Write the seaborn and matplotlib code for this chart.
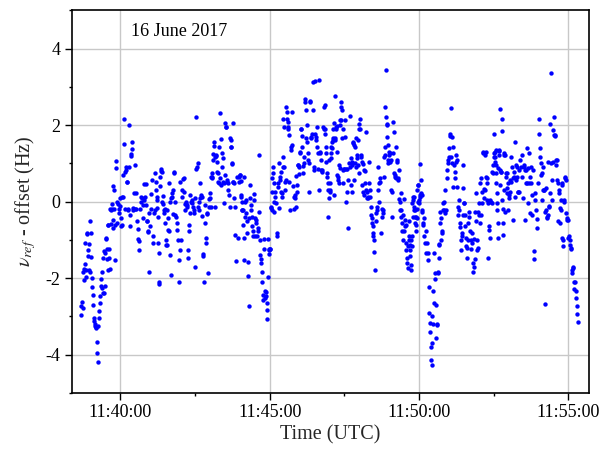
import numpy as np
import pandas as pd
import matplotlib
matplotlib.use("Agg")
import matplotlib.pyplot as plt
import seaborn as sns
from matplotlib.ticker import FixedLocator

# ---- data (seconds after 11:40:00, Hz) ----
seg_start_s = [-80, -70, -60, -50, -40, -30, -20, -10, 0, 10, 20, 30, 40, 50, 60, 70,
               80, 90, 100, 110, 120, 130, 140, 150, 160, 170, 180, 190, 200, 210, 220, 230,
               240, 250, 260, 270, 280, 290, 300, 310, 320, 330, 340, 350, 360, 370, 380, 390,
               400, 410, 420, 430, 440, 450, 460, 470, 480, 490, 500, 510, 520, 530, 540, 550,
               560, 570, 580, 590, 600, 610, 620, 630, 640, 650, 660, 670, 680, 690, 700, 710,
               720, 730, 740, 750, 760, 770, 780, 790, 800, 810, 820, 830, 840, 850, 860, 870,
               880, 890, 900, 910]
seg_values_hz = [
    [-2.97, -2.72, -2.63, -2.78, -1.84, -2.05, -1.75, -1.62, -1.09],
    [-1.97, -1.78, -0.83, -0.85, -1.26, -1.42, -1.12, -1.8, -1.83, -0.5],
    [-0.81, -1.46, -2.0, -2.22, -2.43, -2.7, -3.05, -3.12, -3.2, -3.26],
    [-3.3, -3.28, -3.67, -3.96, -4.2, -3.25, -3.04, -2.87, -2.65, -2.48],
    [-2.2, -2.02, -1.83, -2.25, -1.48, -2.4, -1.3, -2.38, -2.2, -1.35],
    [-0.96, -0.98, -1.23, -1.5, -1.78, -0.6, -0.62, -1.25, -1.48, -0.2, -1.75],
    [-0.58, -0.22, -0.05, -0.2, -0.7, -0.48, 0.4, 0.3, -0.2, -1.52, -0.6],
    [1.05, 0.87, -0.57, 0.0, -0.05, -0.3, -0.2, 0.1, -0.12],
    [-0.43, -0.63, -0.6, 0.13, 0.7, 0.12, 2.17, 1.5, -0.2, 0.78],
    [0.9, 0.82, 0.5, 0.5, -0.2, -0.22, 2.0, 0.9, -0.35, -0.63],
    [1.2, 1.24, 1.37, 1.57, -0.18, -0.21, 0.22, 0.95, -0.2],
    [0.22, -0.2, -0.5, -0.72, -0.98, -1.02, -1.26, -0.2],
    [0.0, 0.13, 0.1, -0.43, -0.1, 0.05, 0.45, 0.13],
    [-0.1, 0.45, -0.5, -0.52, -0.8, -0.76, -1.83, -0.3, -0.65],
    [-0.2, 0.2, 0.56, -0.9, -1.08, -0.3, -0.22],
    [0.74, 0.5, 0.3, 0.13, 0.05, -0.17, -0.39, -1.09, -1.35, -2.09, -2.15, 0.65, 0.4],
    [0.84, 0.8, 0.78, 0.0, 0.15, -0.05, -0.22, -0.3, -0.2],
    [-0.57, -1.0, -1.13, -1.13, -0.22, -0.43, -0.74, -0.78, 0.48, 0.0],
    [-1.4, -1.91, 0.09, 0.13, 0.22, -0.32, 0.3, 0.75, 0.77, -0.35],
    [0.0, -0.39, -0.57, -0.74, -1.0, -1.52, -2.09, 0.5],
    [-1.26, -1.0, 0.13, 0.3, 0.6, 0.61, 0.26, -0.05],
    [-0.22, 0.0, -0.05, -0.09, -0.13, -1.26, -1.48, -0.6, -0.78, -0.3],
    [0.17, 0.0, 0.04, -0.04, -0.13, -0.22, -0.3, 0.09],
    [-1.72, 2.2, 0.84, 0.91, 1.0, -0.13, 0.0, -0.22, 0.09],
    [0.48, 0.17, 0.13, -0.37, -1.37, -1.43, -2.11, -0.09],
    [-0.57, -0.96, -1.07, -0.29, -0.32, -1.87, -0.13, 0.06, 0.22],
    [0.09, -0.13, 0.65, 0.61, 0.65, 0.74, 1.09, 1.24, 1.57, 1.45, -0.13],
    [1.17, 1.19, 1.22, 1.04, 0.78, 0.74, 0.52, 0.48, 1.42, 2.32],
    [0.61, 0.43, 1.63, 0.91, 1.26, 1.13, 0.52, 0.48, -0.04, 0.7],
    [2.06, 1.96, 1.94, 0.52, 0.57, 0.48, 0.3, 0.17, -0.13],
    [1.65, 1.61, 1.43, 1.42, 1.0, 0.98, 2.06, 0.52, 0.5, 0.48, 0.09, -0.13],
    [-0.87, -1.54, 0.65, -0.96, 0.65, 0.5],
    [0.7, 0.7, 0.55, 0.17, 0.13, 0.0, -0.22, -0.22, -0.22, -0.6, -0.96, -1.52, 0.65, -0.39],
    [0.0, 0.04, -0.3, -0.52, -0.81, -1.57, -1.94, -2.74, -0.43, 0.1],
    [0.43, -0.09, -0.22, -0.39, -0.65, -0.91, -0.78, 0.2, 0.04, -0.91],
    [-0.43, -0.48, -0.57, -0.91, -0.76, -0.7, 1.21, -0.26],
    [-1.0, -1.39, -1.51, -1.61, -2.11, -1.83, -2.43, -2.57, -0.98, -1.24],
    [-2.35, -2.52, -2.37, -2.48, -2.65, -2.83, -3.07, -1.96, -0.98, -1.37, -1.26, -1.24],
    [-1.24, -1.24, -0.17, -0.13, -0.22, 0.26, 0.63, 0.91, 0.74, 0.48, -0.26, 0.0],
    [0.26, 0.13, -0.04, -0.91, -0.81, 0.48, 0.39, 1.0, -0.17],
    [0.65, 0.57, 0.78, 0.26, 0.13, 0.22, 0.91, 1.17, 2.17, 1.96, 0.91],
    [0.3, 0.52, 0.57, 2.48, 2.35, 2.17, 1.96, 1.91, 2.09, 1.74, 0.52],
    [-0.22, 1.43, 1.35, 1.48, 2.35, 0.41, -0.2, 0.13],
    [0.09, 0.17, -0.13, 0.67, 0.43, 0.26, 0.96, 0.96, 0.72, 0.91],
    [1.26, 1.3, 1.91, 1.91, 1.71, 1.43, 0.76, 0.93, 1.0, 1.17],
    [2.61, 2.67, 2.39, 1.65, 2.0, 1.57, 1.26, 1.1, 0.26, 1.0],
    [2.61, 2.63, 1.7, 1.65, 1.76, 3.13, 2.39, 0.91, 0.83],
    [3.16, 1.78, 1.7, 1.61, 1.96, 1.43, 1.26, 0.84, 0.3, 3.17],
    [1.3, 1.26, 1.09, 0.83, 0.83, 0.78, 1.96, 2.48, 1.91],
    [2.52, 1.9, 1.77, 1.43, 1.26, 1.04, 0.74, 0.65, 0.48, 0.3, -0.4, 1.09, 0.09],
    [0.3, 0.26, 0.48, 1.13, 1.28, 1.43, 1.39, 1.57, 1.61, 1.65, 1.91, 2.06, 0.17],
    [1.65, 1.61, 2.76, 1.91, 1.96, 1.98, 1.3, 0.7, 0.57, 0.65, 0.48, 0.96],
    [0.87, 2.13, 2.0, 2.13, 2.61, 2.48, 2.39, 1.65, 1.91, 0.48, 0.83, 0.85, 0.84],
    [2.13, 1.7, 0.84, 0.0, 0.84, 0.26, -0.7, 0.57, 1.0],
    [2.24, 0.91, 1.13, 0.43, 1.04, 0.26, 0.96, 1.52, 1.57, 0.57],
    [1.48, 1.43, 1.02, 1.65, 0.91, 1.22, 1.13, 0.96, 1.61, 1.91, 0.74],
    [2.04, 2.17, 1.91, 1.22, 1.17, 1.04, 0.43, 0.98, 0.26, 0.17],
    [0.83, 0.8, 0.48, 1.83, 0.3, 0.26, 0.09, 0.13, 0.09, 0.48],
    [1.04, 0.3, 0.13, -0.13, -0.35, -0.43, -0.57, -0.65, -0.91, -0.83, -1.0],
    [-1.33, -1.78, -0.52, -0.3, -0.13, -0.22, 0.3, 0.91, 0.0],
    [0.48, 0.52, 0.61, -0.81, -0.2, -0.39, -0.3, -0.22, 0.65],
    [1.17, 1.22, 1.43, 2.48, 3.45, 2.22, 2.04, 2.0, 1.7, 1.48, 1.09, 1.0, 1.22],
    [1.3, 1.26, 1.04, 1.09, 0.3, 0.26, -0.39, 2.09, 1.26, 1.83],
    [0.74, 0.7, 0.65, 0.61, 1.43, 1.04, 1.09, 0.61, 0.57, 0.83],
    [0.06, 0.0, -0.22, 0.23, -0.39, -0.22, -0.57, -0.78, -0.35, -1.0, -0.78],
    [0.06, -0.48, -0.65, -0.61, -1.09, -1.26, -1.48, -1.61, -1.74, -1.17, -1.0],
    [-0.52, -0.91, -1.13, -1.26, -1.43, -1.65, -1.78, -1.0, -1.17, -0.91, -0.04, -0.39, 0.04, 0.13, -0.22],
    [0.13, -0.13, -0.22, -0.57, -0.39, -0.39, -0.78, -0.61, -0.43, -0.2, 0.3, 0.43, 0.43, 0.0, 0.04],
    [-0.04, 0.98, 0.13, 0.17, 0.57, 0.22, 0.17, -0.26, -0.22, -0.61, -0.57, -0.43],
    [-0.91, -1.09, -1.35, -0.78, -1.09, -1.35, -1.52],
    [-2.23, -2.91, -3.42, -3.17, -3.8, -4.13, -4.26, -3.7, -3.0, -3.2, -2.33, -2.65],
    [-1.35, -1.87, -2.02, -2.7, -3.57, -3.2, -3.22, -1.87, -1.83, -1.13],
    [-1.48, -1.1, -0.26, -0.57, -0.43, -1.0, -0.83, -0.78, -0.22, -0.04, 0.0],
    [-0.22, -0.29, 0.3, -0.22, 0.83, 0.61, 1.09, 1.0],
    [1.39, 1.17, 1.72, 1.77, 2.46, 1.17, 1.7, 1.0, 1.43, 0.37],
    [0.96, 0.78, 0.61, 1.04, 1.22, 1.09, 0.37, -0.13, -0.35],
    [0.04, -0.22, -0.57, -0.67, -1.0, -1.26, -0.91, -0.83, 0.35, -0.35, 0.96],
    [-0.04, -0.03, -0.35, -0.65, -0.96, -1.17, -1.48, -1.2, -0.57, -1.0],
    [-0.26, -0.39, -0.78, -1.0, -1.23, -1.09, -0.83, -1.83, -1.61],
    [-0.98, -1.7, -1.5, -0.26, -0.52, 0.23, -1.0, -1.26, -1.22, -0.26],
    [-0.04, -0.35, 0.48, -0.57, 0.61, -0.35, 0.26, -0.04, 1.26, 1.3],
    [0.32, 0.09, 0.3, 1.22, 1.3, 0.65, 0.04, 0.61, 0.48, -0.03, -1.48],
    [-0.65, -0.74, -0.96, 0.04, 0.0, -0.03, 0.78, 0.74, 0.96],
    [1.17, 1.78, 1.26, 1.3, 1.17, 1.04, 1.35, 0.96, 0.74, 0.48, 0.22, -0.03, -0.22, -0.57, -0.96, 0.87],
    [1.35, 1.22, 1.33, 0.83, 0.43, 2.43, 0.78, 0.78, 2.17, 1.85, 0.04, -0.2, -0.57, -0.87],
    [1.22, 1.26, 0.3, -0.26, 1.23, 0.74, 0.65, 0.74, 0.22, 0.35, -0.22, 0.48],
    [0.17, 0.09, 0.26, 0.57, 0.52, 1.17, 0.91, -0.48, 0.61],
    [0.65, 0.78, 1.57, 0.13, 0.96, 0.57, 0.9, 0.65, 0.26, 0.26],
    [0.26, 0.83, 1.09, 0.91, 0.65, 1.22, 0.09],
    [0.91, 0.96, 0.83, -0.48, 0.48, 0.83, 0.48, 1.4, 0.87, -0.03],
    [0.48, 1.26, -0.3, 0.65, 0.91, 0.48, 0.17, -0.35, 0.83],
    [-1.29, -1.5, 0.22, 0.04, -0.22, -0.46, -0.68, 0.48],
    [2.15, 1.78, 1.39, 1.17, 1.0, 0.7, 0.74, 0.04, 0.3, 0.91],
    [0.3, 0.3, -2.67, -0.26, 0.35, -0.22, -0.39, -0.43, 1.04],
    [-0.35, -0.13, -0.11, 0.22, 2.04, 3.37, 1.0, 0.57, 0.04, 1.04],
    [1.87, 1.74, 2.22, 1.74, 1.71, 0.96, 1.09, 1.09, 0.57, -0.52],
    [0.48, 0.22, 0.3, -0.17, -0.57, 0.03, -0.22, 0.43, 0.48, -0.96, -1.17],
    [-1.0, 0.03, 0.0, 0.65, 0.61, 0.57, -0.3, -0.43, -0.48, -0.96],
    [-0.48, -0.91, -1.0, -1.13, -1.22, -1.24, -1.78, -1.87, -1.74],
    [-1.7, -2.11, -2.29, -2.09, -2.35, -2.52, -2.74, -2.94, -3.15],
]

x_tick_s = [0, 300, 600, 900]
x_tick_labels = ["11:40:00", "11:45:00", "11:50:00", "11:55:00"]
x_minor_s = [150, 450, 750]
y_ticks = [-4, -2, 0, 2, 4]
y_minor = [-5, -3, -1, 1, 3, 5]

rows = []
for s, vals in zip(seg_start_s, seg_values_hz):
    n = len(vals)
    for i, v in enumerate(vals):
        rows.append((s + (i + 0.5) * 10.0 / n, v))
df = pd.DataFrame(rows, columns=["time_s", "freq_hz"])

sns.set_style("white")
plt.rcParams["font.family"] = ["Liberation Serif", "DejaVu Serif"]
plt.rcParams["mathtext.fontset"] = "stix"

fig = plt.figure(figsize=(6, 4.5), dpi=100)
ax = fig.add_axes([0.1195, 0.127, 0.8622, 0.850])

sns.scatterplot(data=df, x="time_s", y="freq_hz", ax=ax, color="#0000ff",
                s=10, linewidth=0, legend=False, zorder=3)

ax.set_xlim(-98, 942)
ax.set_ylim(-5, 5)
ax.set_xticks(x_tick_s)
ax.set_xticklabels(x_tick_labels)
ax.xaxis.set_minor_locator(FixedLocator(x_minor_s))
ax.set_yticks(y_ticks)
ax.set_yticklabels([str(v) for v in y_ticks])
ax.yaxis.set_minor_locator(FixedLocator(y_minor))

ax.grid(True, which="major", color="#c8c8c8", linewidth=1.0)
ax.set_axisbelow(True)
ax.tick_params(which="both", direction="out", bottom=True, left=True,
               top=False, right=False, colors="black", width=1.0)
ax.tick_params(which="major", length=5.3, labelsize=13, pad=3)
ax.tick_params(which="minor", length=2.5)
for sp in ax.spines.values():
    sp.set_color("black")
    sp.set_linewidth(1.2)

ax.set_xlabel("Time (UTC)", fontsize=14.5, labelpad=3)
ax.set_ylabel(r"$\nu_{ref}$ - offset (Hz)", fontsize=14.5, labelpad=5)
ax.text(0.115, 0.944, "16 June 2017", transform=ax.transAxes, fontsize=13,
        va="center", ha="left", color="black")

fig.savefig("out.png", dpi=100)
